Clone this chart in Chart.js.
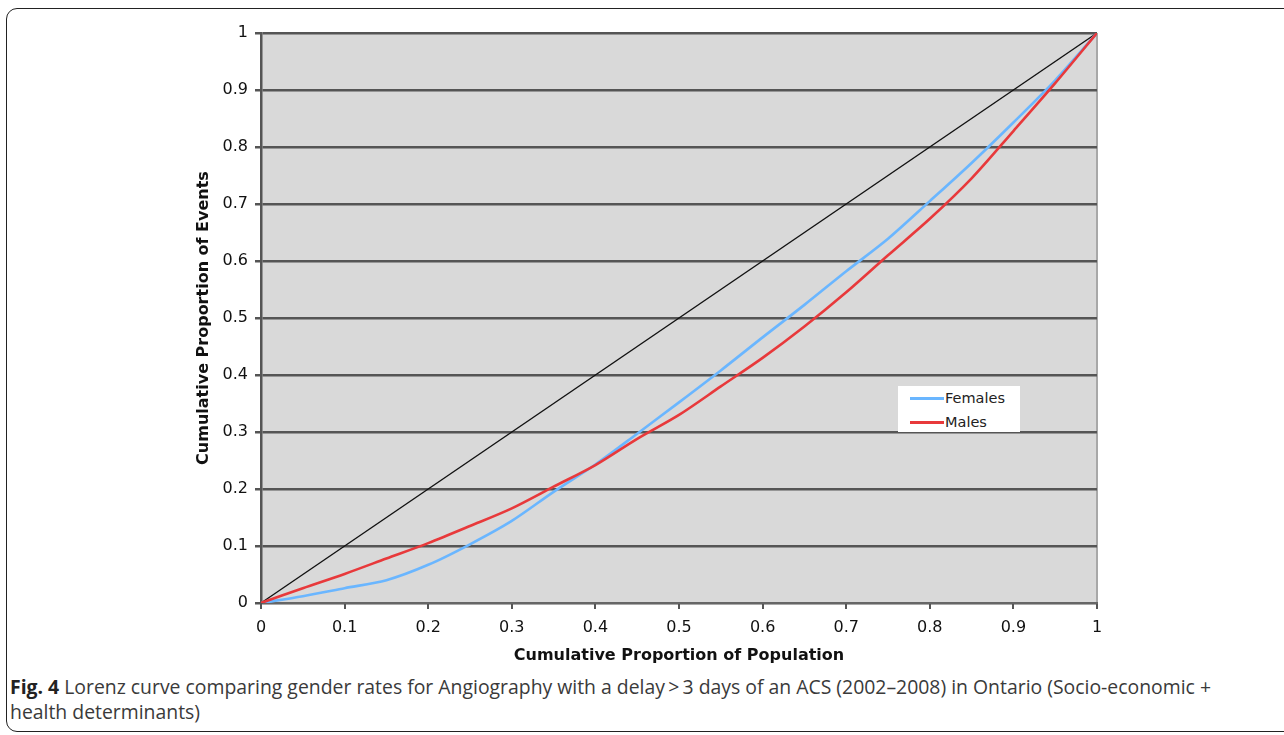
<!DOCTYPE html>
<html>
<head>
<meta charset="utf-8">
<script src="https://cdn.jsdelivr.net/npm/chart.js@4.4.1/dist/chart.umd.min.js"></script>
<style>
  body { margin: 0; background: #fff; width: 1284px; height: 735px; overflow: hidden; position: relative; }
  #frame { position: absolute; left: 6px; top: 8px; width: 1300px; height: 722px; border: 1.5px solid #222; border-radius: 11px; }
  #wrap { position: absolute; left: 0; top: 0; width: 1284px; height: 670px; }
  #legend { position: absolute; left: 898px; top: 386px; width: 122px; height: 46px; background: #fff;
            font-family: "DejaVu Sans", Verdana, sans-serif; font-size: 14.5px; color: #222; }
  .row { position: absolute; left: 12px; height: 20px; line-height: 20px; }
  .sw { display: inline-block; width: 34px; height: 3px; vertical-align: middle; margin-right: 1px; position: relative; top: -1px; }
  #caption { position: absolute; left: 10px; top: 674px; width: 1270px; font-family: "Open Sans", sans-serif;
             font-size: 19.4px; line-height: 25px; color: #3a3a3a; white-space: nowrap; }
  #caption b { color: #222; }
</style>
</head>
<body>
<div id="frame"></div>
<div id="wrap"><canvas id="lorenz"></canvas></div>
<div id="legend"></div>
<div id="caption"><b>Fig. 4</b> Lorenz curve comparing gender rates for Angiography with a delay&thinsp;&gt;&thinsp;3 days of an ACS (2002–2008) in Ontario (Socio-economic +<br>health determinants)</div>
<script>
// cumulative proportion of population
const popX = [0, 0.05, 0.1, 0.15, 0.2, 0.25, 0.3, 0.35, 0.4, 0.45, 0.5, 0.55, 0.6, 0.65, 0.7, 0.75, 0.8, 0.85, 0.9, 0.95, 1];
// cumulative proportion of events
const femalesY = [0, 0.012, 0.026, 0.04, 0.067, 0.103, 0.144, 0.195, 0.243, 0.297, 0.352, 0.408, 0.466, 0.523, 0.582, 0.639, 0.705, 0.772, 0.843, 0.917, 1];
const malesY = [0, 0.026, 0.051, 0.078, 0.105, 0.135, 0.166, 0.204, 0.242, 0.288, 0.33, 0.38, 0.43, 0.485, 0.545, 0.61, 0.674, 0.745, 0.828, 0.912, 1];
const equalityX = [0, 1];
const equalityY = [0, 1];
const seriesNames = ['Females', 'Males'];
const seriesColors = ['#6ab6ff', '#e8393b'];
const tickValues = [0, 0.1, 0.2, 0.3, 0.4, 0.5, 0.6, 0.7, 0.8, 0.9, 1];

function toPoints(xs, ys) {
    return xs.map((x, i) => ({ x: x, y: ys[i] }));
}

const plotBackground = {
    id: 'plotBackground',
    beforeDraw(chart) {
        const a = chart.chartArea;
        const ctx = chart.ctx;
        ctx.save();
        ctx.fillStyle = '#d9d9d9';
        ctx.fillRect(a.left, a.top, a.right - a.left, a.bottom - a.top);
        ctx.restore();
    }
};

const tickFont = { family: '"DejaVu Sans", Verdana, sans-serif', size: 16 };
const titleFont = { family: '"DejaVu Sans", Verdana, sans-serif', size: 16, weight: 'bold' };

const chart = new Chart(document.getElementById('lorenz'), {
    type: 'scatter',
    data: {
        datasets: [
            {
                label: 'Equality',
                data: toPoints(equalityX, equalityY),
                showLine: true,
                borderColor: '#111',
                borderWidth: 1.3,
                pointRadius: 0,
                order: 3
            },
            {
                label: seriesNames[0],
                data: toPoints(popX, femalesY),
                showLine: true,
                borderColor: seriesColors[0],
                borderWidth: 2.6,
                pointRadius: 0,
                tension: 0.3,
                order: 2
            },
            {
                label: seriesNames[1],
                data: toPoints(popX, malesY),
                showLine: true,
                borderColor: seriesColors[1],
                borderWidth: 2.6,
                pointRadius: 0,
                tension: 0.3,
                order: 1
            }
        ]
    },
    options: {
        responsive: true,
        maintainAspectRatio: false,
        animation: false,
        layout: { padding: { left: 191, right: 187, top: 33, bottom: 5 } },
        plugins: {
            legend: { display: false },
            tooltip: { enabled: false }
        },
        scales: {
            x: {
                type: 'linear',
                min: 0,
                max: 1,
                afterBuildTicks: scale => { scale.ticks = tickValues.map(v => ({ value: v })); },
                afterFit: scale => { scale.height = 62; },
                ticks: {
                    font: tickFont,
                    color: '#111',
                    padding: 9,
                    maxRotation: 0,
                    callback: v => String(Math.round(v * 10) / 10)
                },
                grid: {
                    drawOnChartArea: true,
                    color: c => (c.tick && c.tick.value === 1) ? '#a8a8a8' : 'rgba(0,0,0,0)',
                    tickColor: '#555',
                    tickLength: 6,
                    lineWidth: 2
                },
                border: { display: true, color: '#666', width: 2 },
                title: {
                    display: true,
                    text: 'Cumulative Proportion of Population',
                    font: titleFont,
                    color: '#111',
                    padding: { top: 4, bottom: 0 }
                }
            },
            y: {
                type: 'linear',
                min: 0,
                max: 1,
                afterBuildTicks: scale => { scale.ticks = tickValues.map(v => ({ value: v })); },
                afterFit: scale => { scale.width = 70; },
                ticks: {
                    font: tickFont,
                    color: '#111',
                    padding: 7,
                    callback: v => String(Math.round(v * 10) / 10)
                },
                grid: {
                    color: '#555',
                    tickColor: '#555',
                    tickLength: 6,
                    lineWidth: 2.5
                },
                border: { display: true, color: '#555', width: 2.5 },
                title: {
                    display: true,
                    text: 'Cumulative Proportion of Events',
                    font: titleFont,
                    color: '#111',
                    padding: { top: 3, bottom: 4 }
                }
            }
        }
    },
    plugins: [plotBackground]
});

// legend box inside plot
const legend = document.getElementById('legend');
seriesNames.forEach((name, i) => {
    const row = document.createElement('div');
    row.className = 'row';
    row.style.top = (2 + i * 24) + 'px';
    row.innerHTML = '<span class="sw" style="background:' + seriesColors[i] + '"></span>' + name;
    legend.appendChild(row);
});
</script>
</body>
</html>
